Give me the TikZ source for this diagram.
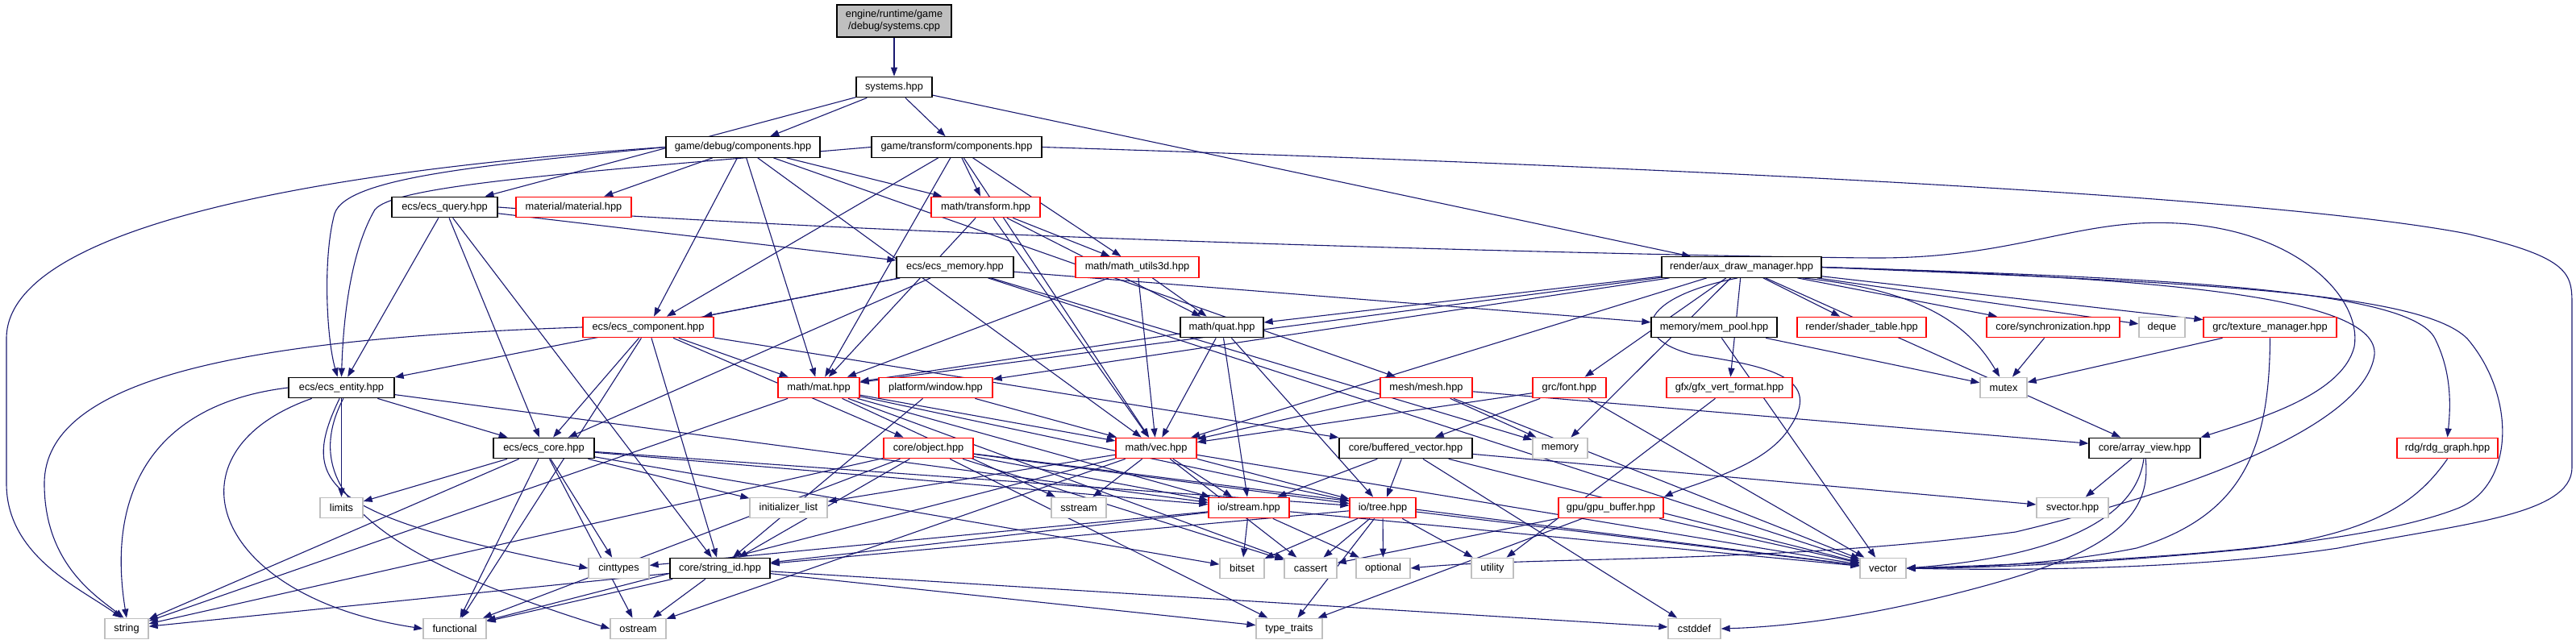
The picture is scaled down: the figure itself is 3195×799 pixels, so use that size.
\documentclass[tikz,border=0pt]{standalone}
\usepackage{fontspec}
\setmainfont{Liberation Sans}
\usetikzlibrary{arrows.meta}
\definecolor{edgec}{HTML}{191970}
\definecolor{redc}{HTML}{FF0000}
\definecolor{grayc}{HTML}{BFBFBF}
\pgfdeclarelayer{bg}
\pgfsetlayers{bg,main}
\tikzset{
 nd/.style={rectangle, minimum height=25.5pt, inner sep=0pt, fill=white, line width=1.3pt, font=\fontsize{12.8}{15}\selectfont},
 blk/.style={nd, draw=black},
 rd/.style={nd, draw=redc},
 gr/.style={nd, draw=grayc},
 rootnode/.style={nd, draw=black, fill=grayc, minimum height=40pt, align=center},
 e/.style={draw=edgec, line width=1.1pt, -{Triangle[length=11pt,width=8pt]}}
}
\begin{document}
\begin{tikzpicture}[x=1pt,y=-1pt]
\useasboundingbox (0,0) rectangle (3195,799);
% row 0-1
\node[rootnode, minimum width=142pt] (cpp) at (1109,26) {engine/runtime/game\\/debug/systems.cpp};
\node[blk, minimum width=94pt] (sys) at (1109,108) {systems.hpp};
% row 2
\node[blk, minimum width=191pt] (gdc) at (921.5,182.5) {game/debug/components.hpp};
\node[blk, minimum width=211pt] (gtc) at (1186.5,182.5) {game/transform/components.hpp};
% row 3
\node[blk, minimum width=131pt] (query) at (551.5,257) {ecs/ecs\_query.hpp};
\node[rd, minimum width=143pt] (material) at (711.5,257) {material/material.hpp};
\node[rd, minimum width=135pt] (mtrans) at (1222.5,257) {math/transform.hpp};
% row 4
\node[blk, minimum width=145pt] (ecsmem) at (1184.5,331.5) {ecs/ecs\_memory.hpp};
\node[rd, minimum width=153pt] (mu3d) at (1410.5,331.5) {math/math\_utils3d.hpp};
\node[blk, minimum width=198pt] (aux) at (2160,331.5) {render/aux\_draw\_manager.hpp};
% row 5
\node[rd, minimum width=162pt] (comp) at (804,406) {ecs/ecs\_component.hpp};
\node[blk, minimum width=103pt] (quat) at (1515.5,406) {math/quat.hpp};
\node[blk, minimum width=156pt] (mempool) at (2126,406) {memory/mem\_pool.hpp};
\node[rd, minimum width=160pt] (shader) at (2309,406) {render/shader\_table.hpp};
\node[rd, minimum width=165pt] (sync) at (2546.5,406) {core/synchronization.hpp};
\node[gr, minimum width=57pt] (deque) at (2681.5,406) {deque};
\node[rd, minimum width=165pt] (texmgr) at (2815.5,406) {grc/texture\_manager.hpp};
% row 6
\node[blk, minimum width=131pt] (entity) at (423.5,481) {ecs/ecs\_entity.hpp};
\node[rd, minimum width=101pt] (mat) at (1015.5,481) {math/mat.hpp};
\node[rd, minimum width=141pt] (window) at (1160.5,481) {platform/window.hpp};
\node[rd, minimum width=114pt] (mesh) at (1769,481) {mesh/mesh.hpp};
\node[rd, minimum width=91pt] (font) at (1946.5,481) {grc/font.hpp};
\node[rd, minimum width=156pt] (gfxvf) at (2145,481) {gfx/gfx\_vert\_format.hpp};
\node[gr, minimum width=58pt] (mutex) at (2485,481) {mutex};
% row 7
\node[blk, minimum width=125pt] (core) at (674.5,556) {ecs/ecs\_core.hpp};
\node[rd, minimum width=111pt] (object) at (1151.5,556) {core/object.hpp};
\node[rd, minimum width=100pt] (vec) at (1434,556) {math/vec.hpp};
\node[blk, minimum width=165pt] (bufvec) at (1743.5,556) {core/buffered\_vector.hpp};
\node[gr, minimum width=68pt] (memory) at (1935,556) {memory};
\node[blk, minimum width=138pt] (arrview) at (2660,556) {core/array\_view.hpp};
\node[rd, minimum width=125pt] (rdg) at (3035.5,556) {rdg/rdg\_graph.hpp};
% row 8
\node[gr, minimum width=53pt] (limits) at (423.5,630) {limits};
\node[gr, minimum width=96pt] (initl) at (978,630) {initializer\_list};
\node[gr, minimum width=68pt] (sstream) at (1338,630) {sstream};
\node[rd, minimum width=100pt] (iostream) at (1549,630) {io/stream.hpp};
\node[rd, minimum width=82pt] (iotree) at (1715,630) {io/tree.hpp};
\node[rd, minimum width=130pt] (gpubuf) at (1998,630) {gpu/gpu\_buffer.hpp};
\node[gr, minimum width=89pt] (svector) at (2570.5,630) {svector.hpp};
% row 9
\node[gr, minimum width=75pt] (cinttypes) at (767.5,705) {cinttypes};
\node[blk, minimum width=124pt] (strid) at (893,705) {core/string\_id.hpp};
\node[gr, minimum width=55pt] (bitset) at (1540.5,705) {bitset};
\node[gr, minimum width=65pt] (cassert) at (1625.5,705) {cassert};
\node[gr, minimum width=67pt] (optional) at (1715.5,705) {optional};
\node[gr, minimum width=52pt] (utility) at (1851,705) {utility};
\node[gr, minimum width=57pt] (vector) at (2335.5,705) {vector};
% row 10
\node[gr, minimum width=54pt] (string) at (157,780) {string};
\node[gr, minimum width=78pt] (functional) at (564,780) {functional};
\node[gr, minimum width=69pt] (ostream) at (791.5,780) {ostream};
\node[gr, minimum width=82pt] (typetraits) at (1599,780) {type\_traits};
\node[gr, minimum width=65pt] (cstddef) at (2101.5,780) {cstddef};

\begin{pgfonlayer}{bg}
\foreach \s/\t in {cpp/sys, sys/query, sys/gdc, sys/gtc, sys/aux,
 gdc/material, gdc/mtrans, gdc/comp, gdc/mat, gdc/mesh, gdc/vec,
 gtc/mtrans, gtc/mu3d, gtc/comp, gtc/mat, gtc/vec,
 query/ecsmem, query/entity, query/core, query/strid,
 mtrans/mu3d, mtrans/mat, mtrans/vec, mtrans/quat,
 ecsmem/comp, ecsmem/entity, ecsmem/core, ecsmem/mempool, ecsmem/memory, ecsmem/vector,
 mu3d/quat, mu3d/mat, mu3d/vec,
 aux/quat, aux/mat, aux/window, aux/vec, aux/font, aux/gfxvf, aux/memory, aux/shader, aux/sync, aux/deque, aux/texmgr, aux/arrview,
 comp/mat, comp/core, comp/object, comp/bufvec, comp/strid, comp/functional,
 quat/mat, quat/vec, quat/iostream, quat/iotree,
 mempool/mutex, mempool/vector, sync/mutex, texmgr/mutex,
 entity/core, entity/limits, entity/iostream,
 mat/vec, mat/sstream, mat/string, mat/iostream, mat/iotree, mat/cassert,
 window/vec, window/strid,
 mesh/vec, mesh/memory, mesh/arrview, mesh/vector,
 font/vec, font/bufvec, font/vector,
 gfxvf/utility,
 core/limits, core/string, core/functional, core/ostream, core/cinttypes, core/initl, core/bitset, core/iostream, core/iotree,
 object/strid, object/functional, object/string, object/iostream, object/iotree, object/cassert, object/typetraits, object/vector,
 vec/initl, vec/sstream, vec/iostream, vec/iotree, vec/cassert, vec/ostream, vec/functional, vec/vector,
 bufvec/iostream, bufvec/iotree, bufvec/svector, bufvec/vector, bufvec/cstddef,
 arrview/svector,
 iostream/bitset, iostream/optional, iostream/strid, iostream/cinttypes, iostream/vector,
 iotree/bitset, iotree/cassert, iotree/optional, iotree/utility, iotree/typetraits, iotree/strid, iotree/vector,
 gpubuf/cassert, gpubuf/vector, gpubuf/typetraits,
 strid/string, strid/functional, strid/ostream, strid/typetraits, strid/cstddef}
 {\draw[e] (\s) -- (\t);}
% curved edges
\draw[e] (gdc.west) .. controls (350,215) and (8,290) .. (8,420) -- (8,600) .. controls (8,690) and (100,730) .. (string.115);
\draw[e] (gdc.west) .. controls (600,205) and (430,220) .. (415,265) .. controls (400,320) and (405,420) .. (entity.110);
\draw[e] (gtc.west) .. controls (700,215) and (490,230) .. (465,260) .. controls (430,320) and (425,420) .. (entity.north);
\draw[e] (gtc.east) .. controls (2000,205) and (2800,240) .. (3060,290) .. controls (3190,320) and (3190,340) .. (3190,380) -- (3190,580) .. controls (3190,640) and (3050,650) .. (2900,680) .. controls (2700,710) and (2450,707) .. (vector.east);
\draw[e] (query.east) .. controls (1200,300) and (2200,320) .. (2330,320) .. controls (2500,320) and (2580,270) .. (2700,277) .. controls (2850,285) and (2930,370) .. (2920,430) .. controls (2905,490) and (2800,520) .. (arrview.north east);
\draw[e] (aux.-110) .. controls (2030,370) and (2020,420) .. (2100,440) .. controls (2200,455) and (2260,470) .. (2220,530) .. controls (2190,580) and (2100,600) .. (gpubuf.north east);
\draw[e] (aux.east) .. controls (2700,345) and (2950,370) .. (2945,440) .. controls (2935,520) and (2750,600) .. (2500,660) .. controls (2200,700) and (1900,690) .. (optional.east);
\draw[e] (aux.east) .. controls (2700,350) and (3000,360) .. (3060,420) .. controls (3120,490) and (3120,600) .. (3050,630) .. controls (2900,690) and (2500,700) .. (vector.east);
\draw[e] (aux.east) .. controls (2700,345) and (2990,360) .. (3020,420) .. controls (3040,460) and (3040,500) .. (rdg.north);
\draw[e] (aux.-10) .. controls (2380,360) and (2440,400) .. (mutex.110);
\draw[e] (texmgr.south) .. controls (2815,560) and (2780,640) .. (2650,680) .. controls (2550,700) and (2450,704) .. (vector.east);
\draw[e] (arrview.-95) .. controls (2650,640) and (2560,690) .. (vector.east);
\draw[e] (arrview.-85) .. controls (2670,650) and (2600,690) .. (2450,730) .. controls (2300,770) and (2200,778) .. (cstddef.east);
\draw[e] (rdg.south) .. controls (3000,620) and (2950,660) .. (2800,680) .. controls (2600,700) and (2450,705) .. (vector.east);
\draw[e] (entity.west) .. controls (200,500) and (130,600) .. (string.north);
\draw[e] (comp.west) .. controls (300,420) and (55,470) .. (55,600) .. controls (55,700) and (120,740) .. (string.105);
\draw[e] (entity.-160) .. controls (200,560) and (260,740) .. (functional.west);
\draw[e] (entity.-80) .. controls (360,620) and (500,700) .. (ostream.west);
\draw[e] (entity.-100) .. controls (370,600) and (400,640) .. (cinttypes.west);
\end{pgfonlayer}
\end{tikzpicture}
\end{document}
